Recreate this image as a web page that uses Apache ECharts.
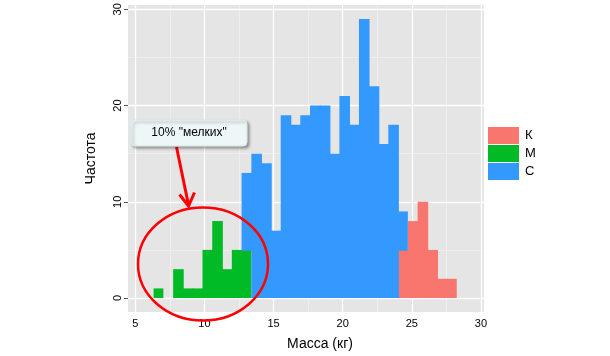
<!DOCTYPE html>
<html><head><meta charset="utf-8">
<script src="https://cdn.jsdelivr.net/npm/echarts@6/dist/echarts.min.js"></script>
<style>html,body{margin:0;padding:0;background:#fff}#c{width:610px;height:356px}</style>
</head><body><div id="c"></div>
<script>
// Histogram bins (31 bins)
const binStart = 6.32;
const binWidth = 0.7074;
const groups = ['К', 'М', 'С'];
const colors = ['#F8766D', '#00BA26', '#3399FF'];
// counts per bin, index 0..30
const countsK = [0,0,0,0,0,0,0,0,0,0, 0,0,0,0,0,0,0,0,0,0, 0,0,0,0,0,5,8,10,5,2,2];
const countsM = [1,0,3,1,1,5,8,3,5,5, 0,0,0,0,0,0,0,0,0,0, 0,0,0,0,0,0,0,0,0,0,0];
const countsC = [0,0,0,0,0,0,0,0,0,8, 15,14,7,19,18,19,20,20,15,21, 18,29,22,16,18,4,0,0,0,0,0];
const xTicks = [5, 10, 15, 20, 25, 30];
const xMinor = [7.5, 12.5, 17.5, 22.5, 27.5];
const yTicks = [0, 10, 20, 30];
const yMinor = [5, 15, 25];
const xRange = [4.47, 30.22];
const yRange = [-1.45, 30.45];

function buildSeriesData(counts, below) {
  const out = [];
  for (let i = 0; i < counts.length; i++) {
    if (!counts[i]) continue;
    const x0 = binStart + i * binWidth, x1 = x0 + binWidth;
    const b = below[i];
    out.push([x0, x1, b, b + counts[i], counts[i + 1] ? 1 : 0]);
  }
  return out;
}
const zeros = countsK.map(() => 0);
const belowM = countsK.map((v) => v);
const belowC = countsK.map((v, i) => v + countsM[i]);
const dataK = buildSeriesData(countsK, zeros);
const dataM = buildSeriesData(countsM, belowM);
const dataC = buildSeriesData(countsC, belowC);

function renderItem(params, api) {
  const p0 = api.coord([api.value(0), api.value(2)]);
  const p1 = api.coord([api.value(1), api.value(3)]);
  const col = api.visual('color');
  const extra = api.value(4) ? 0.8 : 0;
  const bottomExtra = api.value(2) > 0 ? 0.8 : 0;
  return {
    type: 'rect',
    shape: { x: p0[0], y: p1[1], width: p1[0] - p0[0] + extra, height: p0[1] - p1[1] + bottomExtra },
    style: { fill: col }
  };
}
function histSeries(name, data, color, z) {
  return {
    type: 'custom', name: name, data: data, renderItem: renderItem,
    itemStyle: { color: color }, z: z,
    encode: { x: [0, 1], y: [2, 3] }, silent: true
  };
}
function gridSeries() {
  const major = { color: '#ffffff', width: 1.3, type: 'solid' };
  const minor = { color: '#f4f4f4', width: 0.6, type: 'solid' };
  const d = [];
  xMinor.forEach(v => d.push({ xAxis: v, lineStyle: minor }));
  yMinor.forEach(v => d.push({ yAxis: v, lineStyle: minor }));
  xTicks.forEach(v => d.push({ xAxis: v, lineStyle: major }));
  yTicks.forEach(v => d.push({ yAxis: v, lineStyle: major }));
  return {
    type: 'line', data: [], z: 1, silent: true,
    markLine: { z: 1, symbol: ['none', 'none'], silent: true, animation: false,
      label: { show: false }, emphasis: { disabled: true }, data: d }
  };
}

const chart = echarts.init(document.getElementById('c'), null, { renderer: 'canvas' });
const font = 'Liberation Sans, Arial, sans-serif';
chart.setOption({
  animation: false,
  backgroundColor: '#ffffff',
  grid: { left: 128, right: 126, top: 5, bottom: 44, show: true,
          backgroundColor: '#E5E5E5', borderWidth: 0 },
  legend: {
    orient: 'vertical', left: 488, top: 127, padding: 0,
    itemWidth: 31, itemHeight: 17, itemGap: 1,
    icon: 'rect', data: groups,
    textStyle: { fontFamily: font, fontSize: 13, color: '#000', padding: [0, 0, 0, 1] }
  },
  xAxis: {
    type: 'value', min: xRange[0], max: xRange[1],
    name: 'Масса (кг)', nameLocation: 'middle', nameGap: 25,
    nameTextStyle: { fontFamily: font, fontSize: 14, color: '#000', padding: [0, 0, 0, 28] },
    axisLine: { show: false },
    axisTick: { show: true, length: 4, lineStyle: { color: '#555' }, customValues: xTicks },
    axisLabel: { customValues: xTicks, fontFamily: font, fontSize: 11, color: '#000', margin: 6 },
    splitLine: { show: false }
  },
  yAxis: {
    type: 'value', min: yRange[0], max: yRange[1],
    name: 'Частота', nameLocation: 'middle', nameGap: 30, nameRotate: 90,
    nameTextStyle: { fontFamily: font, fontSize: 14, color: '#000' },
    axisLine: { show: false },
    axisTick: { show: true, length: 4, lineStyle: { color: '#555' }, customValues: yTicks },
    axisLabel: { customValues: yTicks, rotate: 90, fontFamily: font, fontSize: 11, color: '#000', margin: 5 },
    splitLine: { show: false }
  },
  series: [
    gridSeries(),
    histSeries(groups[0], dataK, colors[0], 3),
    histSeries(groups[1], dataM, colors[1], 3),
    histSeries(groups[2], dataC, colors[2], 4)
  ],
  graphic: [
    { type: 'ellipse', z: 100, silent: true,
      shape: { cx: 203, cy: 264, rx: 65, ry: 56.5 },
      style: { fill: 'none', stroke: '#FF0000', lineWidth: 2.5 } },
    { type: 'line', z: 100, silent: true,
      shape: { x1: 176.5, y1: 147, x2: 188.5, y2: 205 },
      style: { stroke: '#FF0000', lineWidth: 3 } },
    { type: 'polyline', z: 100, silent: true,
      shape: { points: [[179.5, 194.5], [188.5, 206], [194.5, 192.5]] },
      style: { fill: 'none', stroke: '#FF0000', lineWidth: 3, lineJoin: 'miter' } },
    { type: 'rect', z: 101, silent: true,
      shape: { x: 131, y: 120, width: 116, height: 26, r: 4 },
      style: { fill: '#EEF7F7', stroke: '#E0EAEA', lineWidth: 1,
               shadowBlur: 3, shadowOffsetX: 2, shadowOffsetY: 2, shadowColor: 'rgba(0,0,0,0.35)' } },
    { type: 'text', z: 102, silent: true,
      style: { x: 189, y: 133, text: '10% "мелких"', align: 'center', verticalAlign: 'middle',
               fontFamily: font, fontSize: 12, fill: '#000' } }
  ]
});
</script></body></html>
